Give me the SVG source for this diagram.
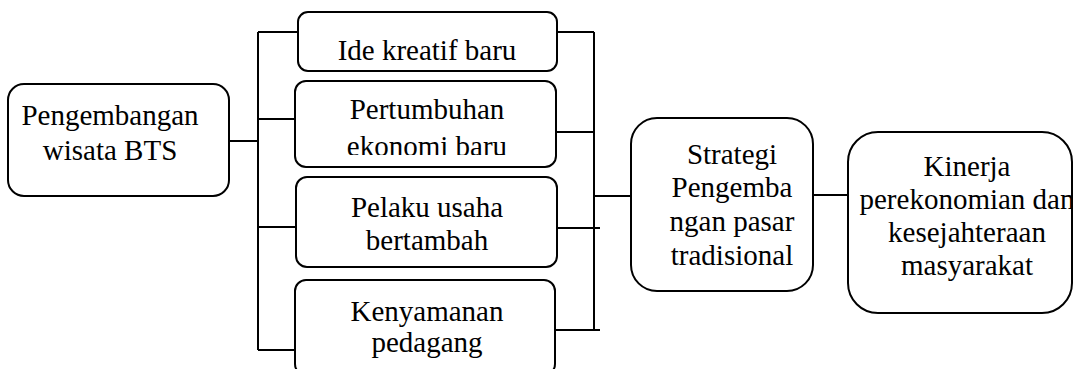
<svg xmlns="http://www.w3.org/2000/svg" width="1073" height="369" viewBox="0 0 1073 369">
<style>
.box{fill:#fff;stroke:#000;stroke-width:2}
.ln{fill:none;stroke:#000;stroke-width:2}
text{font-family:"Liberation Serif","Times New Roman",serif;font-size:29px;fill:#000;text-anchor:middle}
</style>
<defs>
<clipPath id="c2"><rect x="290" y="75" width="270" height="80"/></clipPath>
</defs>
<rect width="1073" height="369" fill="#fff"/>
<g id="connectors">
<path class="ln" d="M229 141H258M258 32V350M258 32H298M258 119H295M258 227H296M258 350H295"/>
<path class="ln" d="M594 32V330M557 32H594M553 132H594M557 228H600M555 330H600M594 196H631M813 195H849"/>
</g>
<g id="n-left">
<rect class="box" x="8" y="84" width="221" height="112" rx="16"/>
<text x="110" y="125">Pengembangan</text>
<text x="110" y="160">wisata BTS</text>
</g>
<g id="n-ide">
<rect class="box" x="298" y="12" width="259" height="59" rx="10"/>
<text x="427" y="60">Ide kreatif baru</text>
</g>
<g id="n-pertumbuhan">
<rect class="box" x="295" y="81" width="261" height="86" rx="11"/>
<g clip-path="url(#c2)">
<text x="427" y="119">Pertumbuhan</text>
<text x="427" y="156">ekonomi baru</text>
</g>
</g>
<g id="n-pelaku">
<rect class="box" x="296" y="177" width="261" height="90" rx="11"/>
<text x="427" y="217">Pelaku usaha</text>
<text x="427" y="250">bertambah</text>
</g>
<g id="n-kenyamanan">
<rect class="box" x="295" y="280" width="260" height="95" rx="11"/>
<text x="427" y="321">Kenyamanan</text>
<text x="427" y="352">pedagang</text>
</g>
<g id="n-strategi">
<rect class="box" x="631" y="118" width="182" height="173" rx="26"/>
<text x="732" y="164">Strategi</text>
<text x="732" y="197">Pengemba</text>
<text x="732" y="231">ngan pasar</text>
<text x="732" y="265">tradisional</text>
</g>
<g id="n-kinerja">
<rect class="box" x="848" y="132" width="224" height="181" rx="30"/>
<text x="967" y="176">Kinerja</text>
<text x="967" y="209">perekonomian dan</text>
<text x="967" y="242">kesejahteraan</text>
<text x="967" y="275">masyarakat</text>
</g>
</svg>
